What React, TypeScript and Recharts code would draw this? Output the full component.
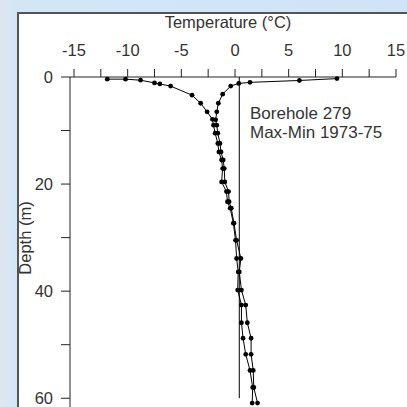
import { ScatterChart, Scatter, XAxis, YAxis, ReferenceLine } from "recharts"

// temperature profile, borehole 279
const minDepth = [0.4, 0.4, 0.6, 1.1, 1.3, 1.7, 3.4, 4.9, 6.5, 7.9, 9.0, 10.5, 12.4, 14.0, 15.5, 17.1, 19.6, 21.4, 23.3, 24.5, 27.3, 30.5, 33.9, 36.4, 39.8, 42.6, 45.9, 48.8, 51.8, 54.8, 58.0, 60.9]
const minTemp = [-11.9, -10.2, -8.8, -7.5, -7.0, -6.0, -4.0, -3.2, -2.6, -2.1, -2.0, -1.85, -1.6, -1.5, -1.25, -1.15, -1.25, -0.8, -0.7, -0.45, -0.15, 0.05, 0.15, 0.3, 0.25, 0.6, 0.6, 0.75, 1.0, 1.4, 1.65, 1.6]

const maxDepth = [0.3, 0.65, 1.0, 1.2, 1.7, 3.2, 4.9, 6.5, 8.0, 9.0, 10.5, 12.4, 14.0, 15.5, 17.1, 19.6, 21.4, 23.3, 24.5, 27.3, 30.5, 33.9, 36.4, 39.8, 42.6, 45.9, 48.8, 51.8, 54.8, 58.0, 60.9]
const maxTemp = [9.5, 6.0, 1.4, 0.35, -0.4, -1.15, -1.55, -1.7, -1.8, -1.7, -1.6, -1.4, -1.3, -1.1, -1.0, -0.95, -0.6, -0.55, -0.35, -0.1, 0.15, 0.55, 0.4, 0.6, 1.0, 1.15, 1.5, 1.5, 1.7, 1.75, 2.1]

const tempTicks = [-15, -12.5, -10, -7.5, -5, -2.5, 0, 2.5, 5, 7.5, 10, 12.5, 15]
const depthTicks = [0, 10, 20, 30, 40, 50, 60]
const refTemp = 0.4
const refDepthEnd = 60

const minData = minDepth.map((d, i) => ({ t: minTemp[i], d }))
const maxData = maxDepth.map((d, i) => ({ t: maxTemp[i], d }))

const ink = "#333"
const font = "'Liberation Sans', Arial, sans-serif"

const Dot = (props: any) => <circle cx={props.cx} cy={props.cy} r={2.4} fill="#000" />

export default function App() {
  return (
    <div
      style={{
        position: "fixed",
        left: 0,
        top: 0,
        width: 407,
        height: 407,
        overflow: "hidden",
        background: "linear-gradient(90deg, #dfe6ef 0px, #d3e6f6 17px, #cfe4f6 100%)",
        fontFamily: font,
      }}
    >
      <div
        style={{
          position: "absolute",
          left: 17,
          top: 12,
          width: 420,
          height: 420,
          background: "#fff",
          border: "2px solid #555",
        }}
      />
      <div style={{ position: "absolute", left: 0, top: 0 }}>
        <ScatterChart width={407} height={430} margin={{ top: 0, right: 11, bottom: 5, left: 0 }}>
          <XAxis
            type="number"
            dataKey="t"
            orientation="top"
            height={77}
            domain={[-15, 15]}
            ticks={tempTicks}
            padding={{ left: 4 }}
            tickFormatter={(v: number) => (v % 5 === 0 ? String(v) : "")}
            tickSize={8}
            tickMargin={13}
            stroke="#222"
            tick={{ fontSize: 16.5, fill: ink }}
            label={{ value: "Temperature (°C)", position: "insideTop", offset: 16, dx: -5, fontSize: 16.5, fill: ink }}
          />
          <YAxis
            type="number"
            dataKey="d"
            reversed
            width={70}
            domain={[0, 65]}
            ticks={depthTicks}
            tickFormatter={(v: number) => (v % 20 === 0 ? String(v) : "")}
            tickSize={9}
            tickMargin={8}
            stroke="#222"
            tick={{ fontSize: 16.5, fill: ink }}
            label={() => (
              <text
                x={25}
                y={238}
                transform="rotate(-90 25 238)"
                textAnchor="middle"
                dominantBaseline="central"
                fontSize={16.5}
                fill={ink}
              >
                Depth (m)
              </text>
            )}
          />
          <ReferenceLine
            segment={[
              { x: refTemp, y: 0 },
              { x: refTemp, y: refDepthEnd },
            ]}
            stroke="#000"
            strokeWidth={1}
          />
          <Scatter
            data={minData}
            fill="#000"
            line={{ stroke: "#000", strokeWidth: 1 }}
            shape={Dot}
            isAnimationActive={false}
          />
          <Scatter
            data={maxData}
            fill="#000"
            line={{ stroke: "#000", strokeWidth: 1 }}
            shape={Dot}
            isAnimationActive={false}
          />
        </ScatterChart>
      </div>
      <div
        style={{
          position: "absolute",
          left: 250,
          top: 104,
          fontSize: 17,
          lineHeight: "19px",
          color: ink,
        }}
      >
        Borehole 279
        <br />
        Max-Min 1973-75
      </div>
    </div>
  )
}
